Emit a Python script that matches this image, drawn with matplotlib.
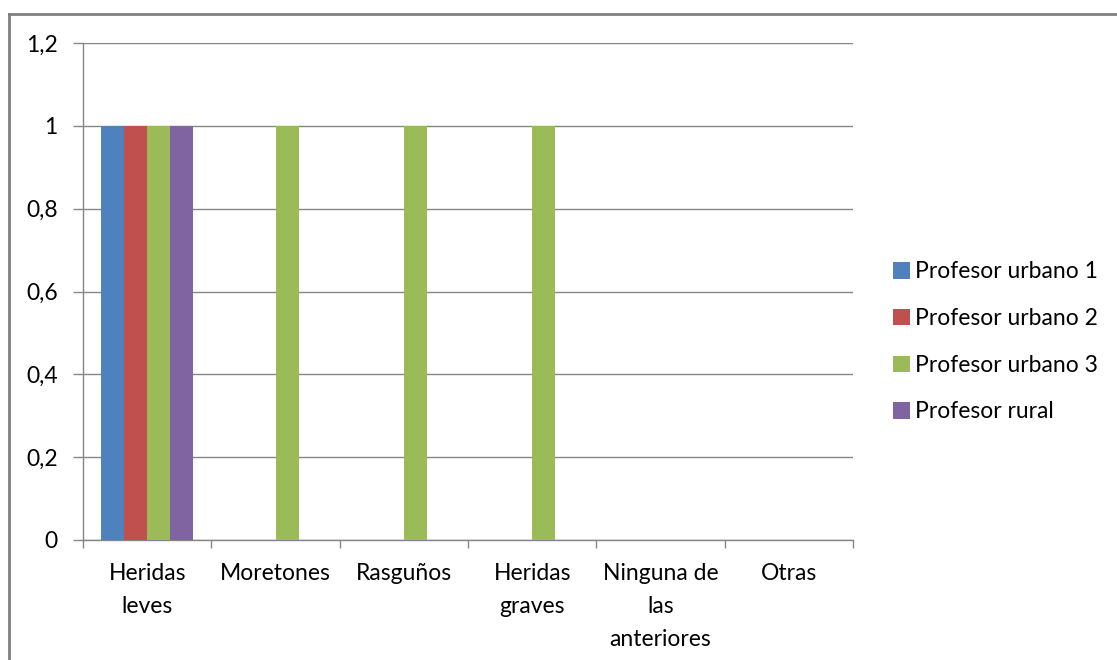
import matplotlib.pyplot as plt
import numpy as np
from matplotlib.lines import Line2D

categorias = ['Heridas\nleves', 'Moretones', 'Rasguños', 'Heridas\ngraves',
              'Ninguna de\nlas\nanteriores', 'Otras']
series = ['Profesor urbano 1', 'Profesor urbano 2', 'Profesor urbano 3', 'Profesor rural']
urbano1 = [1, 0, 0, 0, 0, 0]
urbano2 = [1, 0, 0, 0, 0, 0]
urbano3 = [1, 1, 1, 1, 0, 0]
rural = [1, 0, 0, 0, 0, 0]
yticks = [0, 0.2, 0.4, 0.6, 0.8, 1, 1.2]
ytick_labels = ['0', '0,2', '0,4', '0,6', '0,8', '1', '1,2']

colores = ['#4F81BD', '#C0504D', '#9BBB59', '#8064A2']
gris = '#868686'

plt.rcParams['font.family'] = ['Lato', 'DejaVu Sans']

fig = plt.figure(figsize=(11.17, 6.6), dpi=100)
ax = fig.add_axes([83 / 1117, 1 - 540 / 660, (853 - 83) / 1117, (540 - 43) / 660])

x = np.arange(len(categorias))
ancho = 0.18
for i, (vals, col, nombre) in enumerate(zip([urbano1, urbano2, urbano3, rural], colores, series)):
    ax.bar(x + (i - 1.5) * ancho, vals, width=ancho, color=col, label=nombre, zorder=3)

ax.set_xlim(-0.5, len(categorias) - 0.5)
ax.set_ylim(0, 1.2)
ax.set_yticks(yticks)
ax.set_yticklabels(ytick_labels, fontsize=16.5)
ax.set_xticks(x)
ax.set_xticklabels(categorias, fontsize=16.5, linespacing=1.7, va='top')
ax.set_xticks(np.arange(-0.5, len(categorias)), minor=True)

ax.tick_params(axis='x', which='major', length=0, pad=16.5)
ax.tick_params(axis='x', which='minor', length=6, color=gris, width=1)
ax.tick_params(axis='y', length=7.2, color=gris, width=1, pad=11)

ax.yaxis.grid(True, color=gris, linewidth=1, zorder=0)
for s in ['top', 'right']:
    ax.spines[s].set_visible(False)
for s in ['left', 'bottom']:
    ax.spines[s].set_color(gris)
    ax.spines[s].set_linewidth(1)

fig.legend(loc='center left', bbox_to_anchor=(893 / 1117, 1 - 342 / 660),
           frameon=False, fontsize=16.5, handlelength=0.74, handleheight=0.74,
           handletextpad=0.22, labelspacing=1.12, borderpad=0, borderaxespad=0)

# marco exterior
fig.add_artist(Line2D([9.5 / 1117, 1.0], [1 - 14 / 660, 1 - 14 / 660],
                      color='#808080', linewidth=2, transform=fig.transFigure))
fig.add_artist(Line2D([9.5 / 1117, 9.5 / 1117], [1 - 14 / 660, 0],
                      color='#808080', linewidth=2, transform=fig.transFigure))

fig.savefig('out.png', dpi=100)
